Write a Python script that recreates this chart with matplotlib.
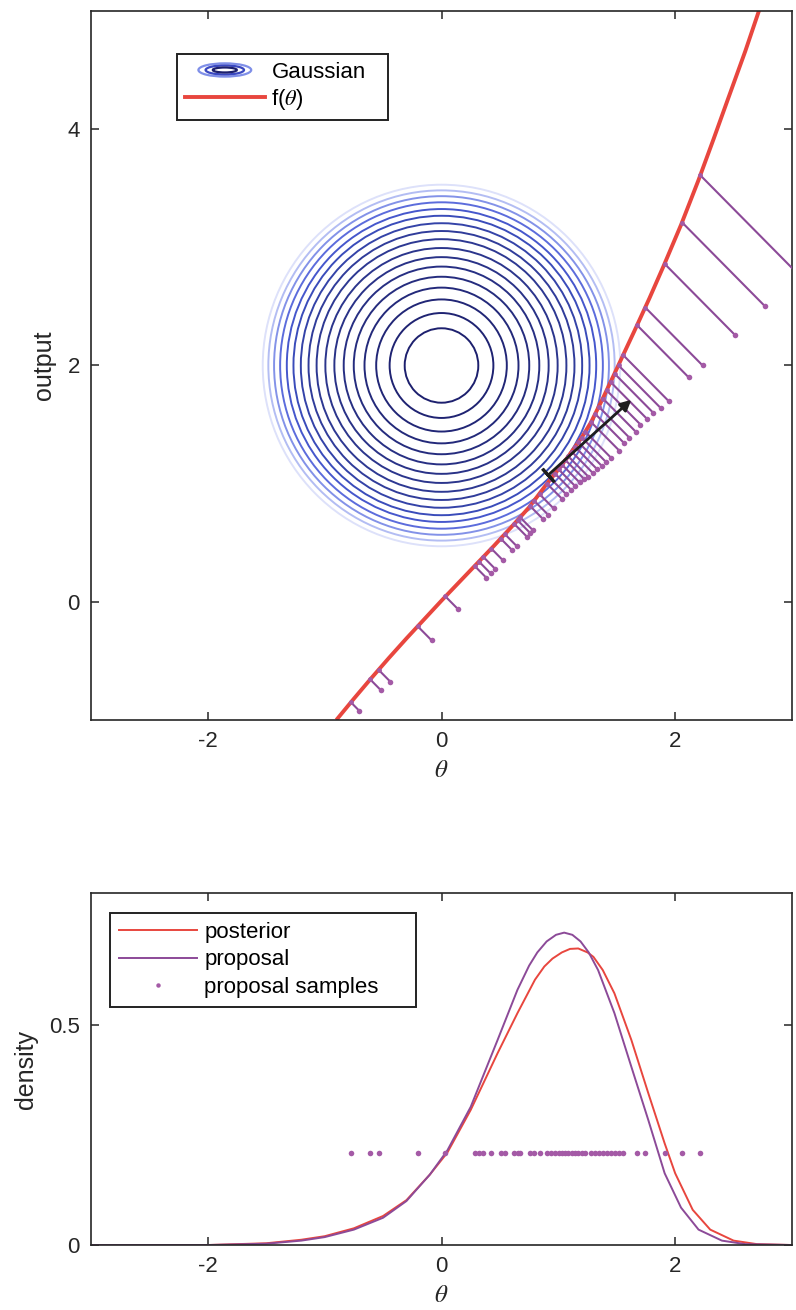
import numpy as np
import matplotlib
matplotlib.use("Agg")
import matplotlib.pyplot as plt
from matplotlib.patches import Circle, Ellipse
from matplotlib.legend_handler import HandlerBase
from matplotlib.lines import Line2D

plt.rcParams['font.family'] = ['Liberation Sans', 'DejaVu Sans']
plt.rcParams['mathtext.fontset'] = 'stix'
plt.rcParams['axes.unicode_minus'] = False

# ---- data ----
# f(theta) curve
curve_theta = [-0.90, -0.75, -0.60, -0.45, -0.30, -0.15, 0.00, 0.15, 0.30, 0.45,
               0.60, 0.75, 0.88, 1.00, 1.10, 1.20, 1.28, 1.38, 1.48, 1.56,
               1.65, 1.78, 1.90, 2.05, 2.20, 2.33, 2.45, 2.60, 2.73, 2.80]
curve_f = [-1.00, -0.82, -0.645, -0.475, -0.31, -0.15, 0.01, 0.165, 0.32, 0.475,
           0.635, 0.80, 0.97, 1.12, 1.25, 1.39, 1.52, 1.72, 1.93, 2.10,
           2.29, 2.57, 2.84, 3.19, 3.57, 3.92, 4.25, 4.66, 5.04, 5.24]

# proposal samples (theta), value of f at each sample, and stem offset
samples = [-0.776, -0.61, -0.539, -0.204, 0.034, 0.284, 0.321, 0.358, 0.427, 0.507,
           0.542, 0.622, 0.651, 0.673, 0.759, 0.794, 0.840, 0.903, 0.937, 0.972,
           1.003, 1.032, 1.060, 1.086, 1.115, 1.144, 1.172, 1.201, 1.230, 1.281,
           1.316, 1.347, 1.382, 1.413, 1.447, 1.482, 1.516, 1.553, 1.675, 1.745,
           1.910, 2.060, 2.215]
sample_f = [-0.85, -0.657, -0.575, -0.207, 0.045, 0.303, 0.34, 0.38, 0.45, 0.535,
            0.573, 0.66, 0.69, 0.715, 0.81, 0.855, 0.91, 1.00, 1.04, 1.085,
            1.12, 1.16, 1.20, 1.23, 1.27, 1.31, 1.35, 1.39, 1.44, 1.52,
            1.59, 1.65, 1.72, 1.79, 1.86, 1.93, 2.00, 2.09, 2.34, 2.49,
            2.86, 3.21, 3.61]
stem_off = [0.07, 0.09, 0.10, 0.12, 0.11, 0.10, 0.10, 0.10, 0.10, 0.10,
            0.10, 0.11, 0.11, 0.11, 0.11, 0.12, 0.12, 0.13, 0.13, 0.14,
            0.14, 0.15, 0.16, 0.17, 0.18, 0.19, 0.20, 0.21, 0.22, 0.24,
            0.25, 0.26, 0.28, 0.29, 0.31, 0.33, 0.36, 0.39, 0.44, 0.49,
            0.60, 0.71, 0.95]

# Gaussian contour rings (centre and radii)
ring_center = (0.0, 2.0)
ring_radii = [0.315, 0.444, 0.559, 0.659, 0.751, 0.837, 0.917, 0.994, 1.069, 1.138,
              1.204, 1.267, 1.324, 1.381, 1.433, 1.482, 1.53]
ring_colors = ['#1d206e', '#1f2372', '#212676', '#23297a', '#252c7e', '#272f83', '#293287',
               '#2b358c', '#2d3892', '#303c9a', '#3443a8', '#3a4cba', '#4657cc',
               '#5c6cdc', '#8392e8', '#b3bdf3', '#dde1fa']

# linearisation arrow
arrow_start = (0.91, 1.07)
arrow_end = (1.625, 1.71)

# bottom panel densities
post_theta = [-3.0, -2.0, -1.5, -1.2, -1.0, -0.75, -0.5, -0.3, -0.1, 0.05, 0.25, 0.48,
              0.65, 0.80, 0.88, 0.95, 1.03, 1.10, 1.17, 1.25, 1.30, 1.38, 1.48, 1.625,
              1.77, 1.91, 2.0, 2.15, 2.3, 2.5, 2.7, 3.0]
post_dens = [0.0, 0.0, 0.004, 0.012, 0.02, 0.038, 0.066, 0.102, 0.16, 0.21, 0.307, 0.436,
             0.527, 0.603, 0.633, 0.651, 0.665, 0.673, 0.674, 0.665, 0.655, 0.625, 0.572,
             0.466, 0.345, 0.231, 0.163, 0.08, 0.035, 0.01, 0.002, 0.0]
prop_theta = [-3.0, -2.0, -1.5, -1.2, -1.0, -0.75, -0.5, -0.3, -0.1, 0.05, 0.25, 0.48,
              0.65, 0.75, 0.82, 0.90, 0.98, 1.05, 1.12, 1.19, 1.26, 1.34, 1.48, 1.625,
              1.77, 1.91, 2.05, 2.2, 2.4, 2.6, 3.0]
prop_dens = [0.0, 0.0, 0.003, 0.010, 0.018, 0.035, 0.062, 0.10, 0.16, 0.215, 0.314, 0.466,
             0.58, 0.635, 0.665, 0.69, 0.705, 0.71, 0.705, 0.69, 0.665, 0.625, 0.527,
             0.405, 0.284, 0.163, 0.085, 0.035, 0.01, 0.002, 0.0]
sample_level = 0.21

RED = '#e8463e'
PURPLE = '#8c4a98'
DOT = '#a45aa6'
AX_COL = '#262626'


class RingsProxy:
    pass


class HandlerRings(HandlerBase):
    def create_artists(self, legend, orig_handle, xdescent, ydescent,
                       width, height, fontsize, trans):
        cx = width / 2 - xdescent
        cy = height / 2 - ydescent
        out = []
        for fw, fh, col in [(0.66, 0.85, '#7f8fe8'), (0.48, 0.58, '#3a48c0'), (0.30, 0.32, '#1d206e')]:
            e = Ellipse((cx, cy), fw * width, fh * height, fill=False, ec=col, lw=1.6,
                        transform=trans)
            out.append(e)
        return out


def style_axes(ax):
    for s in ax.spines.values():
        s.set_color(AX_COL)
        s.set_linewidth(1.2)
    ax.tick_params(direction='in', length=6, width=1.1, top=True, right=True,
                   labelsize=16, colors=AX_COL, pad=8)


fig = plt.figure(figsize=(7.96, 13.10), dpi=100)

# ---- top panel ----
ax1 = fig.add_axes([0.1143, 0.4504, 0.8807, 0.5412])
for r, c in zip(ring_radii, ring_colors):
    ax1.add_patch(Circle(ring_center, r, fill=False, ec=c, lw=1.4, zorder=1))
ax1.plot(curve_theta, curve_f, color=RED, lw=2.8, zorder=2, solid_capstyle='butt')
for t, f, d in zip(samples, sample_f, stem_off):
    ax1.plot([t, t + d], [f, f - d], color=PURPLE, lw=1.5, zorder=3)
ax1.plot(samples, sample_f, 'o', color=DOT, ms=3.5, mec='none', zorder=4)
ax1.plot(np.array(samples) + np.array(stem_off), np.array(sample_f) - np.array(stem_off),
         'o', color=DOT, ms=4, mec='none', zorder=4)
ax1.annotate('', xy=arrow_end, xytext=arrow_start,
             arrowprops=dict(arrowstyle='-|>', color='#1e1e1e', lw=2.0,
                             mutation_scale=16, shrinkA=0, shrinkB=0), zorder=5)
ax1.plot([arrow_start[0]], [arrow_start[1]], marker=(2, 2, 42), ms=13, mew=2.2,
         color='#1e1e1e', zorder=5)
ax1.set_xlim(-3, 3)
ax1.set_ylim(-1, 5)
ax1.set_xticks([-2, 0, 2])
ax1.set_yticks([0, 2, 4])
style_axes(ax1)
ax1.set_xlabel(r'$\theta$', fontsize=18, color=AX_COL, labelpad=4)
ax1.set_ylabel('output', fontsize=18, color=AX_COL, labelpad=8)

leg1 = fig.legend([RingsProxy(), Line2D([], [], color=RED, lw=2.8)],
                  ['Gaussian', r'f($\theta$)'],
                  handler_map={RingsProxy: HandlerRings()},
                  loc='upper left', bbox_to_anchor=(0.2224, 0.9588, 0.265, 0.0),
                  mode='expand',
                  fontsize=16, frameon=True, fancybox=False, framealpha=1,
                  edgecolor='#222222', handlelength=3.6, handletextpad=0.3,
                  labelspacing=0.2, borderpad=0.35, borderaxespad=0)
leg1.get_frame().set_linewidth(1.4)

# ---- bottom panel ----
ax2 = fig.add_axes([0.1143, 0.0496, 0.8807, 0.2687])
ax2.plot(post_theta, post_dens, color=RED, lw=1.4, label='posterior')
ax2.plot(prop_theta, prop_dens, color=PURPLE, lw=1.4, label='proposal')
ax2.plot(samples, [sample_level] * len(samples), 'o', color=DOT, ms=4, mec='none',
         label='proposal samples')
ax2.set_xlim(-3, 3)
ax2.set_ylim(0, 0.8)
ax2.set_xticks([-2, 0, 2])
ax2.set_yticks([0, 0.5])
ax2.set_yticklabels(['0', '0.5'])
style_axes(ax2)
ax2.set_xlabel(r'$\theta$', fontsize=18, color=AX_COL, labelpad=4)
ax2.set_ylabel('density', fontsize=18, color=AX_COL, labelpad=8)

leg2 = fig.legend(*ax2.get_legend_handles_labels(),
                  loc='upper left', bbox_to_anchor=(0.1382, 0.3031, 0.3844, 0.0),
                  mode='expand',
                  fontsize=16, frameon=True, fancybox=False, framealpha=1,
                  edgecolor='#222222', handlelength=3.5, handletextpad=0.35,
                  labelspacing=0.3, borderpad=0.4, borderaxespad=0, markerscale=0.8)
leg2.get_frame().set_linewidth(1.4)

fig.savefig('out.png', dpi=100)
